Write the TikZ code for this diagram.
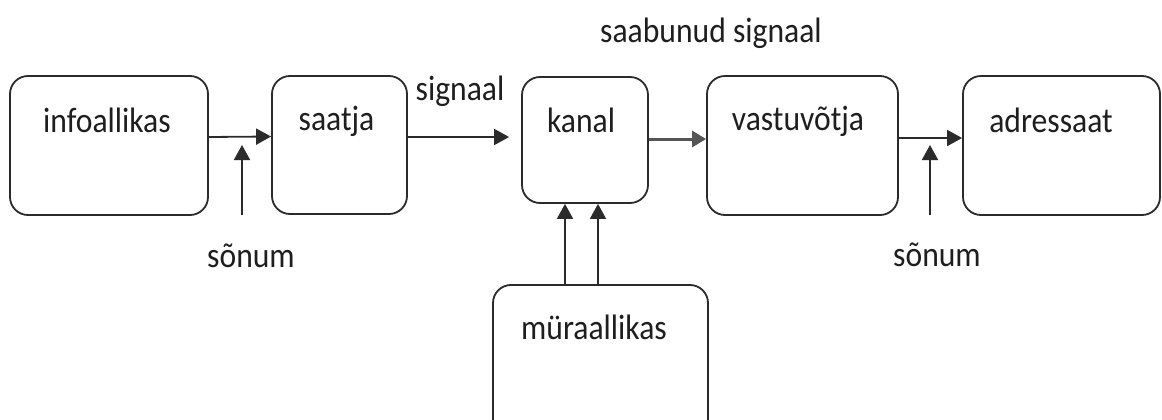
\documentclass[tikz,border=0pt]{standalone}
\usepackage{fontspec}
\setmainfont{Carlito}
\usetikzlibrary{arrows.meta,calc}
\definecolor{ink}{HTML}{2B2B2B}
\definecolor{txtc}{HTML}{1E1E1E}
% slightly tall lettering
\newcommand{\talltext}[1]{\scalebox{1.02}[1.14]{#1}}
\begin{document}
\begin{tikzpicture}[x=1pt,y=-1pt,
  blk/.style={draw=ink,line width=1.8pt,rounded corners=18pt,inner sep=0pt},
  txt/.style={text=txtc,font=\fontsize{31}{36}\selectfont,inner sep=0pt},
  arr/.style={draw=ink,line width=1.8pt,-{Triangle[length=15pt,width=16pt]}},
  thick arr/.style={draw=ink!80,line width=3pt,-{Triangle[length=14pt,width=16pt]}}]
\useasboundingbox (0,0) rectangle (1162,420);
\clip (0,0) rectangle (1162,420);
\fill[white] (0,0) rectangle (1162,420);

% blocks
\node[blk,minimum width=198pt,minimum height=139pt] (info) at (109,145.5) {};
\node[blk,minimum width=135pt,minimum height=138pt] (saatja) at (339.5,145) {};
\node[blk,minimum width=126pt,minimum height=126pt] (kanal) at (585,140) {};
\node[blk,minimum width=191pt,minimum height=139pt] (vastu) at (802.5,145.5) {};
\node[blk,minimum width=197pt,minimum height=139pt] (adr) at (1061.5,145.5) {};
\node[blk,minimum width=215pt,minimum height=160pt] (myra) at (600.5,365) {};

% block titles
\node[txt] (info-t) at (107,120) {\talltext{infoallikas}};
\node[txt] (saatja-t) at (336.5,121) {\talltext{saatja}};
\node[txt] (kanal-t) at (581,120) {\talltext{kanal}};
\node[txt] (vastu-t) at (798,121) {\talltext{vastuvõtja}};
\node[txt] (adr-t) at (1051,120) {\talltext{adressaat}};
\node[txt] (myra-t) at (594,327) {\talltext{müraallikas}};

% free labels
\node[txt] (sig) at (460,91) {\talltext{signaal}};
\node[txt] (saab) at (711,33) {\talltext{saabunud signaal}};
\node[txt] (son1) at (251,256) {\talltext{sõnum}};
\node[txt] (son2) at (937,255) {\talltext{sõnum}};

% message inputs
\coordinate (s1a) at (242,215);
\coordinate (s1b) at (242,145);
\coordinate (s2a) at (930,215);
\coordinate (s2b) at (930,145);

% main chain
\draw[arr] ([yshift=8.5pt]info.east) -- ([yshift=8.5pt]saatja.west);
\draw[arr] ([yshift=8pt]saatja.east) -- ([xshift=-12pt,yshift=3pt]kanal.west);
\draw[thick arr] ([yshift=1pt]kanal.east) -- ([yshift=6.5pt]vastu.west);
\draw[arr] ([yshift=7.5pt]vastu.east) -- ([yshift=7.5pt]adr.west);

% message arrows
\draw[arr] (s1a) -- (s1b);
\draw[arr] (s2a) -- (s2b);

% noise into the channel
\draw[arr] ([xshift=-35.5pt]myra.north) -- ([xshift=-20pt]kanal.south);
\draw[arr] ([xshift=-2.5pt]myra.north) -- ([xshift=13pt]kanal.south);
\end{tikzpicture}
\end{document}
